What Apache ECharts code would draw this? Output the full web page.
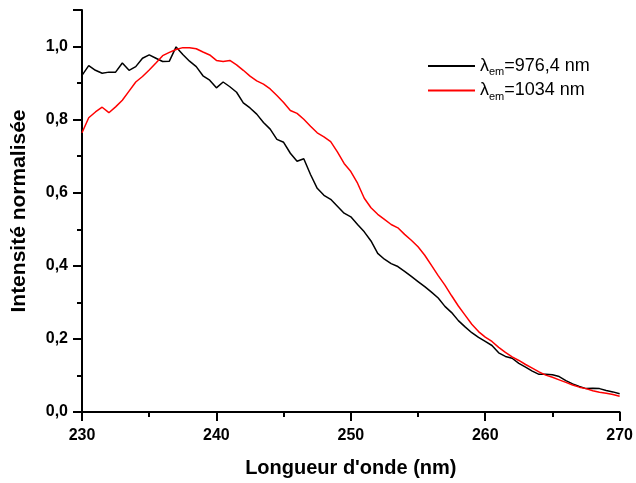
<!DOCTYPE html>
<html>
<head>
<meta charset="utf-8">
<title>Intensité normalisée</title>
<script src="https://cdn.jsdelivr.net/npm/echarts@6/dist/echarts.min.js"></script>
<style>
  html, body { margin: 0; padding: 0; background: #fff; }
  #chart { width: 636px; height: 483px; }
</style>
</head>
<body>
<div id="chart"></div>
<script>
// wavelengths (nm), 0.5 nm step
const wavelengths = [];
for (let w = 230; w <= 270.001; w += 0.5) wavelengths.push(+w.toFixed(1));

// lambda_em = 976,4 nm (black)
const black976 = [
  0.921, 0.948, 0.935, 0.927, 0.930, 0.930, 0.955, 0.935, 0.945, 0.968,
  0.977, 0.968, 0.959, 0.960, 0.999, 0.978, 0.960, 0.945, 0.920, 0.908,
  0.887, 0.903, 0.890, 0.875, 0.846, 0.832, 0.815, 0.792, 0.774, 0.746,
  0.738, 0.708, 0.686, 0.693, 0.650, 0.612, 0.593, 0.582, 0.563, 0.544,
  0.534, 0.513, 0.493, 0.468, 0.434, 0.418, 0.406, 0.398, 0.385, 0.371,
  0.357, 0.343, 0.328, 0.312, 0.289, 0.272, 0.250, 0.233, 0.217, 0.204,
  0.193, 0.182, 0.162, 0.152, 0.147, 0.133, 0.123, 0.112, 0.103, 0.103,
  0.102, 0.097, 0.086, 0.077, 0.070, 0.064, 0.065, 0.064, 0.059, 0.055,
  0.050
];

// lambda_em = 1034 nm (red)
const red1034 = [
  0.764, 0.805, 0.821, 0.834, 0.819, 0.835, 0.853, 0.878, 0.903, 0.918,
  0.936, 0.955, 0.975, 0.984, 0.992, 0.997, 0.997, 0.994, 0.985, 0.977,
  0.962, 0.959, 0.962, 0.950, 0.935, 0.919, 0.906, 0.897, 0.884, 0.866,
  0.847, 0.825, 0.817, 0.801, 0.782, 0.764, 0.753, 0.740, 0.712, 0.680,
  0.658, 0.626, 0.585, 0.559, 0.541, 0.527, 0.513, 0.504, 0.486, 0.470,
  0.452, 0.429, 0.401, 0.373, 0.347, 0.318, 0.290, 0.265, 0.240, 0.220,
  0.205, 0.193, 0.177, 0.163, 0.151, 0.141, 0.130, 0.120, 0.110, 0.101,
  0.095, 0.088, 0.081, 0.074, 0.068, 0.064, 0.058, 0.054, 0.051, 0.048,
  0.043
];

const legendLabels = {
  '976': ['λ', 'em', '=976,4 nm'],
  '1034': ['λ', 'em', '=1034 nm']
};

const font = '"Liberation Sans", Arial, sans-serif';

function pairs(ys) {
  return wavelengths.map((x, i) => [x, ys[i]]);
}

let chart = echarts.init(document.getElementById('chart'), null, { renderer: 'canvas' });

let option = {
  animation: false,
  backgroundColor: '#fff',
  grid: { left: 82, right: 14, top: 10, bottom: 70 },
  legend: {
    orient: 'vertical',
    left: 423,
    top: 52,
    itemWidth: 47,
    itemHeight: 2,
    itemGap: 4,
    icon: 'rect',
    formatter: name => {
      let p = legendLabels[name];
      return '{a|' + p[0] + '}{s|' + p[1] + '}{a|' + p[2] + '}';
    },
    textStyle: {
      fontFamily: font,
      color: '#000',
      rich: {
        a: { fontSize: 18, fontFamily: font, color: '#000' },
        s: { fontSize: 11, fontFamily: font, color: '#000', padding: [12, 0, 0, 0] }
      }
    },
    data: ['976', '1034']
  },
  xAxis: {
    type: 'value',
    min: 230,
    max: 270,
    interval: 10,
    name: "Longueur d'onde (nm)",
    nameLocation: 'middle',
    nameGap: 46,
    nameTextStyle: { fontFamily: font, fontWeight: 'bold', fontSize: 20, color: '#000' },
    axisLine: { lineStyle: { color: '#000', width: 2 } },
    axisTick: { show: true, inside: false, length: 9, lineStyle: { color: '#000', width: 2 } },
    minorTick: { show: true, splitNumber: 2, length: 5, lineStyle: { color: '#000', width: 2 } },
    splitLine: { show: false },
    axisLabel: { fontFamily: font, fontWeight: 'bold', fontSize: 16, color: '#000', margin: 16 }
  },
  yAxis: {
    type: 'value',
    min: 0,
    max: 1.1,
    interval: 0.2,
    name: 'Intensité normalisée',
    nameLocation: 'middle',
    nameGap: 52,
    nameTextStyle: { fontFamily: font, fontWeight: 'bold', fontSize: 21, color: '#000' },
    axisLine: { show: true, lineStyle: { color: '#000', width: 2 } },
    axisTick: { show: true, inside: false, length: 9, lineStyle: { color: '#000', width: 2 } },
    minorTick: { show: true, splitNumber: 2, length: 5, lineStyle: { color: '#000', width: 2 } },
    splitLine: { show: false },
    axisLabel: {
      fontFamily: font, fontWeight: 'bold', fontSize: 16, color: '#000', margin: 14,
      showMaxLabel: false,
      formatter: v => v.toFixed(1).replace('.', ',')
    }
  },
  series: [
    {
      name: '976',
      type: 'line',
      symbol: 'none',
      color: '#000',
      lineStyle: { color: '#000', width: 1.5 },
      data: pairs(black976)
    },
    {
      name: '1034',
      type: 'line',
      symbol: 'none',
      color: '#ff0000',
      lineStyle: { color: '#ff0000', width: 1.5 },
      data: pairs(red1034)
    }
  ]
};

chart.setOption(option);
</script>
</body>
</html>
